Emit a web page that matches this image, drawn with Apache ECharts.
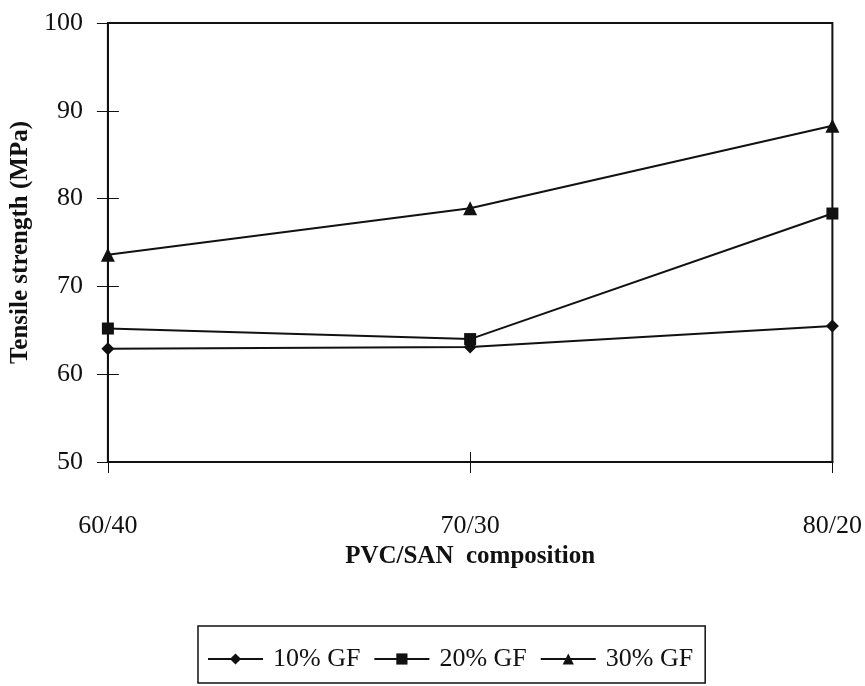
<!DOCTYPE html>
<html>
<head>
<meta charset="utf-8">
<script src="https://cdn.jsdelivr.net/npm/echarts@6/dist/echarts.min.js"></script>
<style>html,body{margin:0;padding:0;background:#fff;}#c{width:865px;height:686px;}</style>
</head>
<body>
<div id="c"></div>
<script>
const categories = ['60/40', '70/30', '80/20'];
const gf10 = [62.9, 63.1, 65.5];
const gf20 = [65.2, 64.0, 78.3];
const gf30 = [73.6, 78.9, 88.3];
const seriesNames = ['10% GF', '20% GF', '30% GF'];

const font = 'Liberation Serif, Times New Roman, serif';
const chart = echarts.init(document.getElementById('c'));
const lineStyle = {color: '#111', width: 2};
function mk(name, data, symbol, size) {
  return {
    name: name, type: 'line', data: data, symbol: symbol, symbolSize: size,
    lineStyle: lineStyle, itemStyle: {color: '#111'}, xAxisIndex: 0, yAxisIndex: 0
  };
}
chart.setOption({
  animation: false,
  backgroundColor: '#fff',
  grid: {left: 107, right: 32, top: 23, bottom: 224, show: true, borderColor: '#111', borderWidth: 2, backgroundColor: 'transparent'},
  legend: {
    left: 198, top: 626,
    data: seriesNames,
    itemWidth: 55, itemHeight: 14, itemGap: 13,
    borderColor: '#111', borderWidth: 1.5, padding: [20, 12, 11, 9],
    textStyle: {fontFamily: font, fontSize: 26, color: '#111', padding: [0, 0, 0, 5]}
  },
  xAxis: [
    {type: 'category', data: categories, boundaryGap: false, position: 'bottom',
     axisLine: {show: true, lineStyle: {color: '#111', width: 2}},
     axisTick: {show: true, length: 11, lineStyle: {color: '#111', width: 1}},
     axisLabel: {margin: 51, fontFamily: font, fontSize: 26, color: '#111'},
     name: 'PVC/SAN  composition', nameLocation: 'middle', nameGap: 78,
     nameTextStyle: {fontFamily: font, fontSize: 25, fontWeight: 'bold', color: '#111'},
     splitLine: {show: false}},
    {type: 'category', data: categories, boundaryGap: false, position: 'bottom',
     axisLine: {show: false},
     axisTick: {show: true, inside: true, length: 10, lineStyle: {color: '#111', width: 1}},
     axisLabel: {show: false}, splitLine: {show: false}}
  ],
  yAxis: [
    {type: 'value', min: 50, max: 100, interval: 10,
     axisLine: {show: true, lineStyle: {color: '#111', width: 2}},
     axisTick: {show: true, length: 11, lineStyle: {color: '#111', width: 1}},
     axisLabel: {margin: 25, fontFamily: font, fontSize: 26, color: '#111'},
     splitLine: {show: false},
     name: 'Tensile strength (MPa)', nameLocation: 'middle', nameGap: 73,
     nameTextStyle: {fontFamily: font, fontSize: 25, fontWeight: 'bold', color: '#111'}},
    {type: 'value', min: 50, max: 100, interval: 10, position: 'left',
     axisLine: {show: false},
     axisTick: {show: true, inside: true, length: 11, lineStyle: {color: '#111', width: 1}},
     axisLabel: {show: false}, splitLine: {show: false}}
  ],
  series: [
    mk(seriesNames[0], gf10, 'diamond', 13),
    mk(seriesNames[1], gf20, 'rect', 12),
    mk(seriesNames[2], gf30, 'triangle', 14)
  ]
});
</script>
</body>
</html>
